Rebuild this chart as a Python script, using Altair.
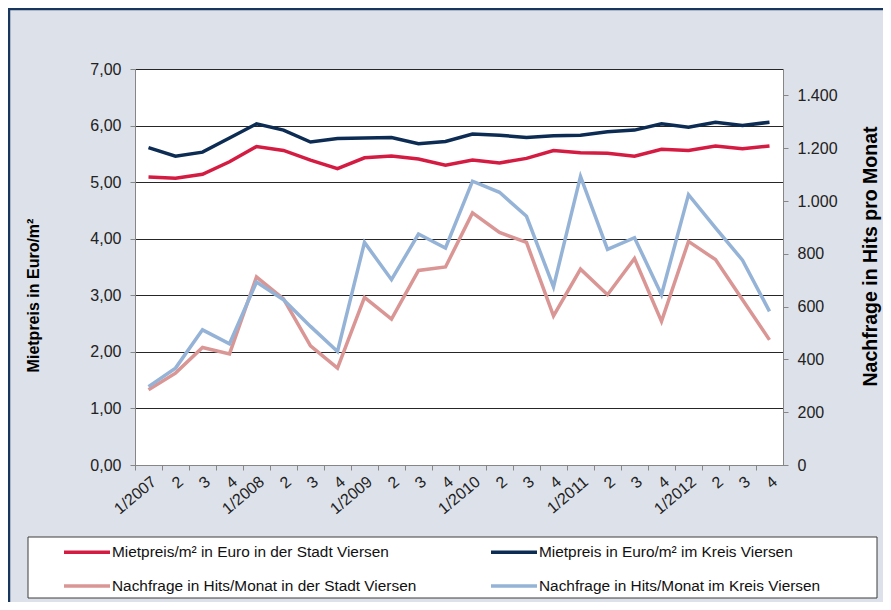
import altair as alt
import pandas as pd

quarters = ["1/2007", "2/2007", "3/2007", "4/2007",
            "1/2008", "2/2008", "3/2008", "4/2008",
            "1/2009", "2/2009", "3/2009", "4/2009",
            "1/2010", "2/2010", "3/2010", "4/2010",
            "1/2011", "2/2011", "3/2011", "4/2011",
            "1/2012", "2/2012", "3/2012", "4/2012"]

# legend is filled column by column: column 1 = Stadt, column 2 = Kreis
series_names = ["Mietpreis/m² in Euro in der Stadt Viersen",
                "Nachfrage in Hits/Monat in der Stadt Viersen",
                "Mietpreis in Euro/m² im Kreis Viersen",
                "Nachfrage in Hits/Monat im Kreis Viersen"]
series_colors = ["#D41C42", "#D99694", "#0D2C54", "#95B3D7"]

miet_stadt = [5.09, 5.07, 5.14, 5.36, 5.63, 5.56, 5.39, 5.24, 5.43, 5.46, 5.41, 5.30,
              5.39, 5.34, 5.42, 5.56, 5.52, 5.51, 5.46, 5.58, 5.56, 5.64, 5.59, 5.64]
miet_kreis = [5.61, 5.46, 5.53, 5.78, 6.03, 5.92, 5.71, 5.77, 5.78, 5.79, 5.68, 5.72,
              5.85, 5.83, 5.79, 5.82, 5.83, 5.89, 5.92, 6.03, 5.97, 6.06, 6.00, 6.06]
hits_stadt = [285, 348, 445, 421, 712, 629, 451, 367, 635, 553, 737, 750,
              955, 881, 843, 565, 742, 645, 782, 544, 847, 778, 626, 474]
hits_kreis = [297, 367, 512, 459, 693, 626, 525, 430, 843, 702, 875, 822,
              1075, 1033, 942, 675, 1093, 817, 861, 645, 1024, 898, 776, 582]

left_ticks = [0, 1, 2, 3, 4, 5, 6, 7]
right_ticks = [0, 200, 400, 600, 800, 1000, 1200, 1400]

def long_df(pairs):
    rows = []
    for name, vals in pairs:
        for i, (q, v) in enumerate(zip(quarters, vals)):
            rows.append({"quarter": q, "idx": i, "series": name, "value": float(v)})
    return pd.DataFrame(rows)

df_miet = long_df([(series_names[0], miet_stadt), (series_names[2], miet_kreis)])
df_hits = long_df([(series_names[1], hits_stadt), (series_names[3], hits_kreis)])

FONT = "Liberation Sans"

x_enc = alt.X("quarter:N", sort=quarters, title=None,
              scale=alt.Scale(type="point", padding=0.5),
              axis=alt.Axis(labelAngle=320, grid=False, tickOffset=-13.5, labelOffset=13.5,
                            labelExpr="substring(datum.label, 0, 2) == '1/' ? datum.label : substring(datum.label, 0, 1)",
                            labelFontSize=16, labelColor="#222222", labelFont=FONT,
                            domainColor="#868686", tickColor="#868686", tickSize=5,
                            labelPadding=3))

legend = alt.Legend(orient="none", legendX=-73, legendY=458, columns=2,
                    columnPadding=67, rowPadding=-24, title=None,
                    symbolType="stroke", symbolSize=2116, symbolStrokeWidth=3.5,
                    labelOffset=0,
                    labelFontSize=15.4, labelFont=FONT, labelColor="#111111",
                    labelLimit=450, padding=0)

color_enc = alt.Color("series:N",
                      scale=alt.Scale(domain=series_names, range=series_colors),
                      legend=legend)

hits = alt.Chart(df_hits).mark_line(strokeWidth=3.5).encode(
    x=x_enc,
    y=alt.Y("value:Q", scale=alt.Scale(domain=[0, 1500], nice=False),
            title="Nachfrage in Hits pro Monat",
            axis=alt.Axis(orient="right", values=right_ticks, grid=False,
                          labelExpr="replace(format(datum.value, ',.0f'), ',', '.')",
                          labelFontSize=16, labelColor="#222222", labelFont=FONT,
                          labelPadding=9, domainColor="#868686", tickColor="#868686",
                          tickSize=5, titleFont=FONT, titleFontSize=19.5,
                          titleFontWeight="bold", titleColor="#000000",
                          titleAngle=270, titleBaseline="middle", titleAlign="center",
                          titleX=87, titleY=187)),
    color=color_enc,
)

miet = alt.Chart(df_miet).mark_line(strokeWidth=3.5).encode(
    x=x_enc,
    y=alt.Y("value:Q", scale=alt.Scale(domain=[0, 7], nice=False),
            title="Mietpreis in Euro/m²",
            axis=alt.Axis(orient="left", values=left_ticks, grid=True,
                          gridColor="#262626", gridWidth=1,
                          labelExpr="replace(format(datum.value, '.2f'), '.', ',')",
                          labelFontSize=16, labelColor="#222222", labelFont=FONT,
                          labelPadding=9, domainColor="#868686", tickColor="#868686",
                          tickSize=5, titleFont=FONT, titleFontSize=16,
                          titleFontWeight="bold", titleColor="#000000",
                          titleAngle=270, titleBaseline="middle", titleAlign="center",
                          titleX=-102, titleY=226)),
    color=color_enc,
)

lines = alt.layer(hits, miet).resolve_scale(y="independent")

frame = alt.Chart(alt.Data(values=[{"k": 0}])).mark_rect(
    fillOpacity=0, stroke="#17375E", strokeWidth=2.5
).encode(x=alt.value(-126), x2=alt.value(770), y=alt.value(-60), y2=alt.value(560))

legend_box = alt.Chart(alt.Data(values=[{"k": 0}])).mark_rect(
    fill="white", stroke="#3c3c3c", strokeWidth=1
).encode(x=alt.value(-107), x2=alt.value(742), y=alt.value(468), y2=alt.value(529))

chart = alt.layer(frame, legend_box, lines).properties(
    width=648, height=396,
    padding={"left": 127, "top": 61, "right": 100, "bottom": 137},
    autosize=alt.AutoSizeParams(type="none"),
    background="#DDE1E9",
).configure(font=FONT).configure_view(fill="white", strokeWidth=0)

chart.save("out.html", embed_options={"renderer": "svg", "actions": False})
